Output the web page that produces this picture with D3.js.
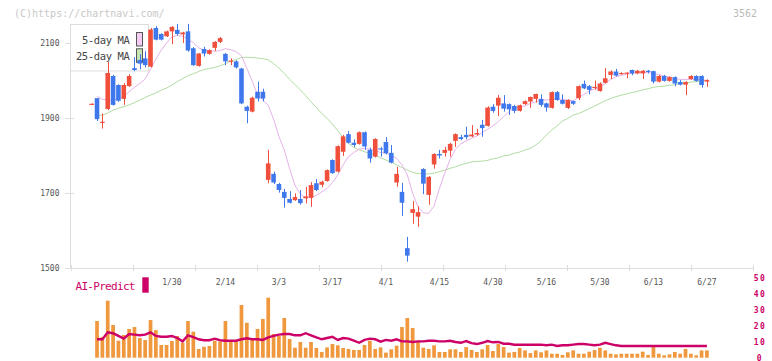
<!DOCTYPE html>
<html><head><meta charset="utf-8">
<script src="https://cdn.jsdelivr.net/npm/d3@7"></script>
<style>body{margin:0;background:#fff}svg{display:block}</style>
</head><body><svg id="c" width="772" height="361"></svg>
<script>
const dates = ["1/8","1/9","1/10","1/14","1/15","1/16","1/17","1/20","1/21","1/22","1/23","1/24","1/27","1/28","1/29","1/30","1/31",
"2/3","2/4","2/5","2/6","2/7","2/10","2/12","2/13","2/14","2/17","2/18","2/19","2/20","2/21","2/25","2/26","2/27","2/28",
"3/3","3/4","3/5","3/6","3/7","3/10","3/11","3/12","3/13","3/14","3/17","3/18","3/19","3/21","3/24","3/25","3/26","3/27","3/28","3/31",
"4/1","4/2","4/3","4/4","4/7","4/8","4/9","4/10","4/11","4/14","4/15","4/16","4/17","4/18","4/21","4/22","4/23","4/24","4/25","4/28","4/30",
"5/1","5/2","5/7","5/8","5/9","5/12","5/13","5/14","5/15","5/16","5/19","5/20","5/21","5/22","5/23","5/26","5/27","5/28","5/29","5/30",
"6/2","6/3","6/4","6/5","6/6","6/9","6/10","6/11","6/12","6/13","6/16","6/17","6/18","6/19","6/20","6/23","6/24","6/25","6/26","6/27"];

const open = [1938,1953,1890,1924,2012,1988,1951,1985,2033,2055,
2059,2037,2140,2124,2118,2131,2135,2123,2131,2086,
2039,2084,2071,2087,2103,2071,2051,2051,2032,1930,
1917,1970,1970,1735,1751,1724,1703,1684,1681,1684,
1686,1687,1726,1722,1732,1788,1757,1810,1857,1834,
1831,1862,1815,1797,1819,1836,1807,1728,1703,1553,
1647,1637,1764,1695,1776,1804,1807,1813,1839,1849,
1855,1851,1856,1882,1879,1930,1933,1939,1937,1932,
1919,1937,1944,1951,1951,1939,1927,1969,1948,1927,
1945,1953,1991,1985,1981,1972,1994,2015,2024,2018,
2019,2028,2019,2019,2026,2025,1997,2012,1999,2009,
1996,1989,2004,2012,2012,1997];
const high = [1939,1953,1912,2049,2015,1990,1993,2017,2062,2070,
2078,2140,2145,2126,2133,2145,2151,2130,2151,2089,
2073,2090,2083,2105,2116,2073,2059,2054,2034,1933,
1957,1997,1978,1815,1757,1727,1711,1705,1699,1708,
1716,1729,1737,1733,1763,1790,1827,1855,1865,1843,
1864,1864,1821,1846,1823,1849,1828,1770,1727,1583,
1679,1665,1766,1745,1806,1815,1823,1834,1859,1855,
1877,1881,1871,1895,1931,1937,1961,1961,1939,1935,
1936,1947,1957,1965,1963,1941,1971,1972,1963,1950,
1946,1987,2000,1988,2000,1995,2033,2027,2031,2022,
2022,2029,2028,2028,2028,2026,2015,2015,2011,2011,
2001,1998,2014,2014,2014,2003];
const low = [1937,1892,1872,1921,1933,1943,1935,1983,2025,2030,
2035,2035,2107,2107,2116,2097,2120,2100,2077,2039,
2037,2064,2069,2079,2100,2041,2041,2032,1937,1886,
1915,1944,1944,1726,1724,1701,1661,1672,1679,1669,
1672,1663,1705,1715,1730,1751,1755,1799,1832,1822,
1829,1815,1781,1795,1797,1803,1779,1717,1639,1517,
1618,1610,1697,1669,1765,1792,1797,1797,1823,1841,
1843,1849,1853,1850,1877,1914,1905,1917,1908,1913,
1917,1935,1927,1941,1930,1917,1925,1946,1936,1924,
1935,1948,1977,1963,1975,1970,1992,2004,2011,2016,
2006,2014,2017,2004,2019,1992,1995,1997,1997,1985,
1987,1961,2002,1997,1981,1983];
const close = [1938,1897,1890,2020,1935,1946,1988,2012,2028,2045,
2041,2136,2109,2109,2131,2143,2124,2128,2080,2041,
2072,2072,2081,2103,2113,2051,2053,2035,1939,1919,
1954,1952,1952,1779,1728,1708,1687,1674,1689,1673,
1691,1721,1708,1730,1761,1753,1825,1851,1834,1828,
1862,1824,1792,1844,1817,1806,1781,1751,1674,1533,
1657,1649,1725,1743,1804,1800,1815,1831,1857,1844,
1849,1856,1860,1873,1928,1919,1954,1925,1923,1919,
1934,1945,1956,1964,1935,1928,1969,1948,1938,1948,
1938,1985,1979,1975,1983,1992,2006,2024,2013,2020,
2021,2019,2026,2026,2023,1997,2012,1999,2009,1992,
1989,1996,2012,1999,1988,2001];

const ma5 = [null,1958,1950,1948,1948,1951,1958,1970,1982,1992,
2004,2030,2057,2081,2100,2116,2120,2118,2110,2101,
2087,2081,2079,2078,2080,2085,2082,2077,2066,2033,
1998,1963,1948,1934,1897,1851,1815,1765,1720,1697,
1686,1688,1694,1703,1712,1728,1748,1775,1797,1808,
1817,1819,1817,1813,1808,1806,1801,1792,1775,1748,
1699,1663,1647,1646,1665,1712,1753,1790,1817,1831,
1839,1846,1852,1861,1870,1879,1890,1904,1917,1927,
1930,1932,1939,1943,1948,1948,1950,1951,1950,1948,
1946,1955,1963,1972,1977,1982,1992,2003,2010,2014,
2017,2019,2021,2021,2021,2019,2016,2012,2009,2005,
2003,2003,2003,2003,2001,2001];
const ma25 = [null,1906,1908,1913,1921,1926,1930,1935,1941,1948,
1955,1961,1967,1974,1980,1988,1997,2005,2013,2018,
2024,2029,2032,2035,2039,2045,2051,2056,2061,2062,
2061,2060,2058,2055,2045,2033,2019,2003,1989,1975,
1960,1943,1928,1912,1899,1884,1866,1848,1832,1821,
1815,1810,1806,1800,1794,1788,1782,1775,1768,1761,
1755,1752,1751,1751,1753,1757,1761,1766,1770,1775,
1779,1783,1784,1785,1787,1791,1794,1799,1801,1806,
1809,1815,1819,1828,1839,1855,1868,1879,1892,1899,
1908,1912,1918,1925,1932,1939,1946,1952,1957,1961,
1964,1968,1971,1975,1978,1982,1984,1985,1987,1989,
1992,1993,1996,1997,1999,2000];

const volume = [null,23.1,13.0,35.9,20.6,10.7,14.3,18.1,19.3,12.4,
11.1,23.7,17.4,8.0,8.0,10.5,13.7,9.4,23.1,16.4,
5.5,6.9,7.4,10.7,10.1,23.1,10.1,10.1,33.2,22.0,
11.1,18.1,24.4,37.8,14.9,13.7,25.0,11.8,6.3,9.9,
6.3,9.9,6.1,3.6,6.5,8.6,7.8,6.1,5.5,4.9,
4.9,8.0,10.7,5.5,6.5,3.2,5.3,7.6,19.3,25.0,
18.7,9.9,6.3,5.5,7.8,3.6,3.6,5.3,5.3,3.6,
6.7,4.9,3.6,5.3,8.0,4.2,8.6,6.7,3.2,3.6,
6.1,4.6,2.9,4.6,3.4,4.6,2.5,2.5,1.7,3.4,
4.6,2.5,2.5,3.8,4.8,6.3,4.6,2.5,2.1,2.5,
2.5,2.5,2.5,3.8,1.7,6.7,2.5,1.5,2.1,3.6,
2.5,5.5,2.5,1.5,4.6,4.6];
const aiPredict = [null,11.6,11.6,16.0,15.4,13.7,12.0,14.9,14.5,14.1,
14.5,16.0,13.7,13.2,13.2,13.7,12.4,10.3,14.1,13.0,
11.6,11.0,11.0,12.0,11.0,10.7,10.7,10.7,11.6,12.2,
11.6,11.6,11.2,12.8,13.7,14.5,14.9,14.9,14.1,14.1,
15.4,14.1,12.8,11.6,12.4,13.2,11.2,12.4,12.0,10.7,
9.4,11.2,12.0,11.6,10.1,11.2,10.7,11.6,10.3,10.3,
9.9,10.3,10.3,10.7,10.7,10.3,10.3,10.7,9.9,9.4,
10.5,9.2,8.6,9.4,10.5,9.7,9.9,8.8,8.8,8.2,
8.2,8.2,8.2,8.2,8.2,7.8,8.2,7.4,7.8,7.8,
8.2,8.6,8.6,8.2,7.8,8.2,9.4,8.6,7.8,7.4,
7.4,7.4,7.4,7.4,7.4,7.4,7.4,7.4,7.4,7.4,
7.4,7.4,7.4,7.4,7.4,7.4];

const priceTicks = [1500,1700,1900,2100];
const dateTickLabels = ["1/30","2/14","3/3","3/17","4/1","4/15","4/30","5/16","5/30","6/13","6/27"];
const aiTicks = [0,10,20,30,40,50];
const legendLabels = ["5-day MA","25-day MA"];

const MONO = "'DejaVu Sans Mono', 'Liberation Mono', monospace";
const RED = "#f04f3c", BLUE = "#3f78ec", PINK = "#e6b2e8", GREEN = "#b2dca2", MAG = "#cc0066", ORANGE = "#f0983e";

const svg = d3.select("#c");
const step = 5.35;
const x = d3.scaleBand().domain(dates).range([89.0, 89.0 + dates.length * step]).padding(0);
const cx = d => x(d) + x.bandwidth() / 2;
const y = d3.scaleLinear().domain([1500, 2100]).range([268, 43]);
const yv = d3.scaleLinear().domain([0, 50]).range([357.7, 278.3]);
const gridX = d3.scaleLinear().domain([0, 11]).range([70.5, 752.5]);

// copyright + code
svg.append("text").attr("x", 14).attr("y", 16.5).attr("font-family", MONO).attr("font-size", 10)
  .attr("fill", "#c8c8c8").text("(C)https://chartnavi.com/");
svg.append("text").attr("x", 757).attr("y", 16.5).attr("text-anchor", "end").attr("font-family", MONO)
  .attr("font-size", 10).attr("fill", "#bbb").text("3562");

// axes lines
svg.append("line").attr("x1", 70.5).attr("x2", 70.5).attr("y1", 24).attr("y2", 268.5).attr("stroke", "#ddd");
svg.append("line").attr("x1", 70).attr("x2", 753).attr("y1", 268.5).attr("y2", 268.5).attr("stroke", "#ddd");
svg.selectAll(".gx").data(d3.range(12)).join("line").attr("class", "gx")
  .attr("x1", d => Math.round(gridX(d)) + 0.5).attr("x2", d => Math.round(gridX(d)) + 0.5)
  .attr("y1", 265).attr("y2", 271).attr("stroke", "#ddd");

// y ticks
const yt = svg.selectAll(".yt").data(priceTicks).join("g").attr("class", "yt");
yt.append("line").attr("x1", 65).attr("x2", 74).attr("y1", d => Math.round(y(d)) + 0.5).attr("y2", d => Math.round(y(d)) + 0.5).attr("stroke", "#ddd");
yt.append("text").attr("x", 59.5).attr("y", d => y(d) + 2.8).attr("text-anchor", "end")
  .attr("font-family", MONO).attr("font-size", 8).attr("fill", "#555").text(d => d);

// date labels
svg.selectAll(".dl").data(dateTickLabels).join("text").attr("class", "dl")
  .attr("x", d => cx(d)).attr("y", 285).attr("text-anchor", "middle")
  .attr("font-family", MONO).attr("font-size", 8).attr("fill", "#555").text(d => d);

// legend box
const lg = svg.append("g");
lg.append("rect").attr("x", 70.5).attr("y", 24.5).attr("width", 78).attr("height", 46.5)
  .attr("fill", "#fff").attr("stroke", "#ddd");
lg.selectAll("text").data(legendLabels).join("text")
  .attr("x", 129.5).attr("y", (d, i) => 43.7 + i * 16.6).attr("text-anchor", "end")
  .attr("font-family", MONO).attr("font-size", 10.5).attr("letter-spacing", -0.37)
  .attr("fill", "#444").text(d => d);
lg.selectAll("rect.sw").data([PINK, GREEN]).join("rect").attr("class", "sw")
  .attr("x", 136.5).attr("y", (d, i) => 32.5 + i * 16.3).attr("width", 6).attr("height", 13.5)
  .attr("fill", (d, i) => i === 0 ? "#f2caf2" : "#c6e6b6").attr("stroke", "#555");

// MA lines
const idx = d3.range(dates.length);
const lineOf = arr => d3.line().defined(i => arr[i] != null).x(i => cx(dates[i])).y(i => y(arr[i]));
svg.append("path").attr("d", lineOf(ma25)(idx)).attr("fill", "none").attr("stroke", GREEN).attr("stroke-width", 1);
svg.append("path").attr("d", lineOf(ma5)(idx)).attr("fill", "none").attr("stroke", PINK).attr("stroke-width", 1);

// candles
const bw = 4.6;
const cg = svg.selectAll(".cd").data(idx).join("g").attr("class", "cd");
const col = i => close[i] >= open[i] ? RED : BLUE;
cg.append("line").attr("x1", i => Math.round(cx(dates[i])) + 0.5).attr("x2", i => Math.round(cx(dates[i])) + 0.5)
  .attr("y1", i => y(high[i])).attr("y2", i => y(low[i])).attr("stroke", col).attr("stroke-width", 1);
cg.append("rect").attr("x", i => cx(dates[i]) - bw / 2).attr("width", bw)
  .attr("y", i => y(Math.max(open[i], close[i])))
  .attr("height", i => Math.max(1.2, Math.abs(y(open[i]) - y(close[i]))))
  .attr("fill", col);

// AI-Predict label
svg.append("text").attr("x", 75.5).attr("y", 290).attr("font-family", MONO).attr("font-size", 11)
  .attr("letter-spacing", -0.7).attr("fill", MAG).text("AI-Predict");
svg.append("rect").attr("x", 142.3).attr("y", 277.3).attr("width", 6.4).attr("height", 15.4).attr("fill", MAG);

// volume bars
const vw = 3.7;
svg.selectAll(".vb").data(idx.filter(i => volume[i] != null)).join("rect").attr("class", "vb")
  .attr("x", i => cx(dates[i]) - vw / 2).attr("width", vw)
  .attr("y", i => yv(volume[i])).attr("height", i => yv(0) - yv(volume[i])).attr("fill", ORANGE);

// AI line
svg.append("path").attr("d", d3.line().defined(i => aiPredict[i] != null).x(i => cx(dates[i])).y(i => yv(aiPredict[i]))(idx))
  .attr("fill", "none").attr("stroke", MAG).attr("stroke-width", 2.4);

// right axis labels
svg.selectAll(".rl").data(aiTicks).join("text").attr("class", "rl")
  .attr("x", 760).attr("y", d => yv(d) + 2.8).attr("text-anchor", "middle")
  .attr("font-family", MONO).attr("font-size", 8).attr("font-weight", "bold").attr("letter-spacing", 1.5)
  .attr("fill", MAG).text(d => d);
</script></body></html>
